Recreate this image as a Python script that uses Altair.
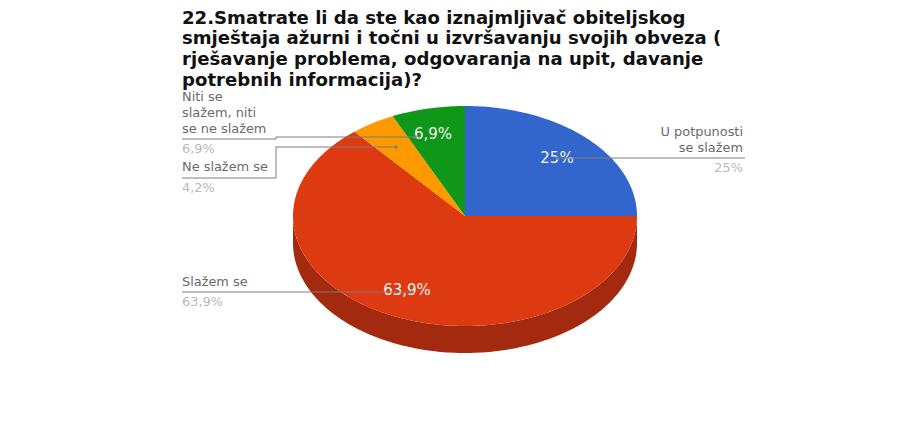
import math
import altair as alt
import pandas as pd

title_lines = [
    "22.Smatrate li da ste kao iznajmljivač obiteljskog",
    "smještaja ažurni i točni u izvršavanju svojih obveza (",
    "rješavanje problema, odgovaranja na upit, davanje",
    "potrebnih informacija)?",
]
categories = ["U potpunosti se slažem", "Slažem se", "Ne slažem se", "Niti se slažem, niti se ne slažem"]
shares = [25.0, 63.9, 4.2, 6.9]
share_labels = ["25%", "63,9%", "4,2%", "6,9%"]
colors = ["#3366CC", "#DD3A11", "#FF9900", "#109618"]
side_color = "#A32A0E"

W, H = 886, 432
OFF = 8
RX, RY, DEPTH = 172, 110, 27
CX, CY = 465, 216
SQ = RY / RX
DROP = DEPTH / RX


def pt(frac):
    a = 2 * math.pi * frac
    return [math.sin(a), SQ * math.cos(a)]


def wedge(f0, f1):
    n = max(2, int((f1 - f0) * 360))
    ring = [[0, 0]] + [pt(f0 + (f1 - f0) * i / n) for i in range(n + 1)] + [[0, 0]]
    return ring[::-1]


def feature(name, ring):
    return {"type": "Feature", "properties": {"name": name},
            "geometry": {"type": "Polygon", "coordinates": [ring]}}


top = []
start = 0.0
for c, s in zip(categories, shares):
    top.append(feature(c, wedge(start / 100, (start + s) / 100)))
    start += s

lower = [pt(0.25 + 0.5 * i / 180) for i in range(181)]
side_ring = [[x, y - DROP] for x, y in lower] + lower[::-1]
side_ring.append(side_ring[0])
side = [feature("side", side_ring[::-1])]

proj = dict(type="identity", reflectY=True, scale=RX, translate=[CX - OFF, CY - OFF])

side_layer = alt.Chart(alt.Data(values=side)).mark_geoshape(color=side_color, strokeWidth=0).project(**proj)
top_layer = alt.Chart(alt.Data(values=top)).mark_geoshape(strokeWidth=0).encode(
    color=alt.Color("properties.name:N", legend=None,
                    scale=alt.Scale(domain=categories, range=colors))
).project(**proj)


def text(s, x, y, size=12.9, color="#6a6a6a", align="left", weight="normal"):
    return alt.Chart(pd.DataFrame({"t": [s]})).mark_text(
        font="DejaVu Sans", fontSize=size, color=color, align=align,
        baseline="middle", fontWeight=weight
    ).encode(text="t:N", x=alt.value(x - OFF), y=alt.value(y - OFF))


def seg(x0, y0, x1, y1):
    return alt.Chart(pd.DataFrame({"a": [0]})).mark_rule(color="#7d7d7d", strokeWidth=1).encode(
        x=alt.value(x0 - OFF), x2=alt.value(x1 - OFF), y=alt.value(y0 - OFF), y2=alt.value(y1 - OFF))


def dot(x, y):
    return alt.Chart(pd.DataFrame({"a": [0]})).mark_circle(color="#7d7d7d", size=12, opacity=1).encode(
        x=alt.value(x - OFF), y=alt.value(y - OFF))


layers = [side_layer, top_layer]
GREY, LIGHT = "#6a6a6a", "#b9b9b9"
for i, line in enumerate(title_lines):
    layers.append(text(line, 182, [19, 39, 60, 81][i], size=18.1, color="#111111", weight="bold"))

layers += [
    text("Niti se", 182, 97),
    text("slažem, niti", 182, 113),
    text("se ne slažem", 182, 129),
    text(share_labels[3], 182, 149, color=LIGHT),
    text(categories[2], 182, 167),
    text(share_labels[2], 182, 188, color=LIGHT),
    text(categories[1], 182, 282),
    text(share_labels[1], 182, 302, color=LIGHT),
    text("U potpunosti", 743, 132, align="right"),
    text("se slažem", 743, 148, align="right"),
    text(share_labels[0], 743, 168, color=LIGHT, align="right"),
]

layers += [
    text(share_labels[0], 557, 158, size=15, color="#f2f2f2", align="center"),
    text(share_labels[3], 433, 134, size=15, color="#f2f2f2", align="center"),
    text(share_labels[1], 407, 290, size=15, color="#f2f2f2", align="center"),
]

layers += [
    seg(557, 158, 745, 158), dot(557, 158),
    seg(182, 139, 276, 139), seg(276, 139, 276, 137), seg(276, 137, 415, 137), dot(415, 137),
    seg(182, 178, 276, 178), seg(276, 178, 276, 147), seg(276, 147, 396, 147), dot(396, 147),
    seg(182, 292, 412, 292), dot(412, 292),
]

chart = alt.layer(*layers).properties(
    width=W, height=H, padding=0, background="white",
    autosize=alt.AutoSizeParams(type="none")
).configure_view(stroke=None)

chart.save("out.html", embed_options={"renderer": "svg", "actions": False})
